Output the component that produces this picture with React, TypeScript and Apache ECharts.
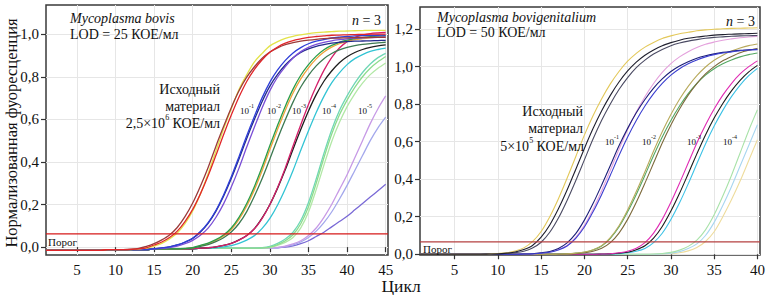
import React, { useEffect, useRef } from "react";
import * as echarts from "echarts";

// ---------- axis settings ----------
const leftXTicks = [5, 10, 15, 20, 25, 30, 35, 40, 45];
const leftYTicks = [0, 0.2, 0.4, 0.6, 0.8, 1.0];
const rightXTicks = [5, 10, 15, 20, 25, 30, 35, 40];
const rightYTicks = [0, 0.2, 0.4, 0.6, 0.8, 1.0, 1.2];
const leftXRange = [1, 45.3];
const leftYRange = [-0.037, 1.137];
const rightXRange = [1, 40.3];
const rightYRange = [-0.004, 1.318];
const leftThreshold = 0.062;
const rightThreshold = 0.066;

// ---------- Mycoplasma bovis (cycles 1..45) ----------
// Initial material 2.5e6
const bovInitRed = [-0.015,-0.015,-0.015,-0.015,-0.015,-0.015,-0.015,-0.015,-0.012,-0.012,-0.012,-0.011,-0.008,-0.003,0.01,0.024,0.045,0.075,0.12,0.177,0.25,0.335,0.43,0.528,0.62,0.705,0.778,0.835,0.88,0.915,0.94,0.958,0.97,0.978,0.985,0.989,0.992,0.995,0.996,0.997,0.998,0.999,1,1,1];
const bovInitBrown = [-0.015,-0.015,-0.015,-0.015,-0.015,-0.015,-0.015,-0.015,-0.012,-0.012,-0.012,-0.01,-0.006,0.003,0.016,0.034,0.057,0.092,0.143,0.207,0.286,0.374,0.473,0.566,0.655,0.734,0.798,0.847,0.887,0.916,0.936,0.951,0.96,0.967,0.972,0.976,0.979,0.981,0.982,0.983,0.984,0.985,0.985,0.985,0.985];
const bovInitYellow = [-0.015,-0.015,-0.015,-0.015,-0.015,-0.015,-0.015,-0.015,-0.012,-0.012,-0.012,-0.012,-0.009,-0.005,0.005,0.018,0.038,0.066,0.11,0.17,0.25,0.345,0.45,0.555,0.65,0.74,0.81,0.87,0.91,0.945,0.965,0.98,0.99,0.997,1.003,1.007,1.01,1.012,1.014,1.015,1.016,1.017,1.018,1.018,1.018];
// 10^-1
const bovD1Blue = [-0.015,-0.015,-0.015,-0.015,-0.015,-0.015,-0.015,-0.015,-0.012,-0.012,-0.012,-0.012,-0.012,-0.012,-0.007,-0.004,0.001,0.01,0.024,0.042,0.073,0.115,0.172,0.245,0.33,0.425,0.523,0.615,0.702,0.775,0.832,0.877,0.912,0.937,0.955,0.967,0.975,0.982,0.986,0.989,0.992,0.993,0.994,0.995,0.996];
const bovD1Violet = [-0.015,-0.015,-0.015,-0.015,-0.015,-0.015,-0.015,-0.015,-0.012,-0.012,-0.012,-0.012,-0.012,-0.012,-0.008,-0.006,-0.002,0.005,0.016,0.032,0.056,0.089,0.139,0.203,0.282,0.371,0.47,0.564,0.655,0.735,0.799,0.848,0.888,0.918,0.938,0.952,0.962,0.969,0.974,0.978,0.981,0.983,0.984,0.985,0.987];
const bovD1Navy = [-0.015,-0.015,-0.015,-0.015,-0.015,-0.015,-0.015,-0.015,-0.012,-0.012,-0.012,-0.012,-0.012,-0.012,-0.007,-0.004,0.001,0.01,0.023,0.041,0.071,0.112,0.168,0.239,0.322,0.414,0.51,0.6,0.684,0.756,0.811,0.855,0.889,0.914,0.931,0.943,0.951,0.958,0.962,0.965,0.967,0.968,0.969,0.97,0.971];
// 10^-2
const bovD2Green = [-0.015,-0.015,-0.015,-0.015,-0.015,-0.015,-0.015,-0.015,-0.012,-0.012,-0.012,-0.012,-0.012,-0.012,-0.008,-0.008,-0.008,-0.008,-0.006,-0.002,0.008,0.019,0.035,0.057,0.09,0.14,0.205,0.285,0.377,0.477,0.572,0.662,0.742,0.807,0.857,0.897,0.927,0.947,0.962,0.972,0.979,0.984,0.988,0.991,0.993];
const bovD2DarkGreen = [-0.015,-0.015,-0.015,-0.015,-0.015,-0.015,-0.015,-0.015,-0.012,-0.012,-0.012,-0.012,-0.012,-0.012,-0.008,-0.008,-0.008,-0.008,-0.007,-0.004,0.004,0.012,0.026,0.044,0.071,0.111,0.167,0.24,0.322,0.414,0.509,0.598,0.681,0.752,0.807,0.851,0.885,0.909,0.926,0.938,0.946,0.952,0.956,0.959,0.962];
const bovD2Orange = [-0.015,-0.015,-0.015,-0.015,-0.015,-0.015,-0.015,-0.015,-0.012,-0.012,-0.012,-0.012,-0.012,-0.012,-0.008,-0.008,-0.008,-0.008,-0.007,-0.003,0.006,0.016,0.031,0.052,0.083,0.13,0.193,0.27,0.36,0.458,0.553,0.643,0.724,0.79,0.842,0.884,0.916,0.939,0.955,0.966,0.974,0.979,0.983,0.986,0.988];
// 10^-3
const bovD3Black = [-0.015,-0.015,-0.015,-0.015,-0.015,-0.015,-0.015,-0.015,-0.012,-0.012,-0.012,-0.012,-0.012,-0.012,-0.008,-0.008,-0.008,-0.008,-0.008,-0.008,-0.005,-0.003,0.001,0.008,0.018,0.034,0.055,0.087,0.137,0.2,0.277,0.364,0.46,0.552,0.639,0.716,0.779,0.827,0.866,0.894,0.914,0.928,0.938,0.945,0.95];
const bovD3Crimson = [-0.015,-0.015,-0.015,-0.015,-0.015,-0.015,-0.015,-0.015,-0.012,-0.012,-0.012,-0.012,-0.012,-0.012,-0.008,-0.008,-0.008,-0.008,-0.008,-0.008,-0.005,-0.003,0.001,0.008,0.018,0.033,0.054,0.086,0.135,0.2,0.28,0.372,0.475,0.575,0.67,0.755,0.83,0.89,0.935,0.965,0.985,0.997,1.003,1.006,1.008];
const bovD3Cyan = [-0.015,-0.015,-0.015,-0.015,-0.015,-0.015,-0.015,-0.015,-0.012,-0.012,-0.012,-0.012,-0.012,-0.012,-0.008,-0.008,-0.008,-0.008,-0.008,-0.008,-0.005,-0.005,-0.003,0.001,0.007,0.018,0.033,0.054,0.088,0.135,0.198,0.274,0.36,0.455,0.546,0.632,0.708,0.771,0.818,0.857,0.885,0.904,0.919,0.928,0.935];
// 10^-4
const bovD4Green1 = [-0.015,-0.015,-0.015,-0.015,-0.015,-0.015,-0.015,-0.015,-0.012,-0.012,-0.012,-0.012,-0.012,-0.012,-0.008,-0.008,-0.008,-0.008,-0.008,-0.008,-0.005,-0.005,-0.005,-0.005,-0.005,-0.005,-0.005,-0.005,-0.004,0,0.012,0.03,0.058,0.11,0.19,0.3,0.42,0.53,0.62,0.69,0.75,0.8,0.84,0.87,0.895];
const bovD4Green2 = [-0.015,-0.015,-0.015,-0.015,-0.015,-0.015,-0.015,-0.015,-0.012,-0.012,-0.012,-0.012,-0.012,-0.012,-0.008,-0.008,-0.008,-0.008,-0.008,-0.008,-0.005,-0.005,-0.005,-0.005,-0.005,-0.005,-0.005,-0.005,-0.004,-0.002,0.008,0.022,0.045,0.09,0.165,0.27,0.385,0.495,0.585,0.66,0.72,0.77,0.81,0.84,0.865];
const bovD4Teal = [-0.015,-0.015,-0.015,-0.015,-0.015,-0.015,-0.015,-0.015,-0.012,-0.012,-0.012,-0.012,-0.012,-0.012,-0.008,-0.008,-0.008,-0.008,-0.008,-0.008,-0.005,-0.005,-0.005,-0.005,-0.005,-0.005,-0.005,-0.005,-0.003,0.004,0.018,0.038,0.07,0.125,0.21,0.32,0.44,0.55,0.64,0.71,0.77,0.82,0.86,0.89,0.91];
// 10^-5
const bovD5Lavender = [-0.015,-0.015,-0.015,-0.015,-0.015,-0.015,-0.015,-0.015,-0.012,-0.012,-0.012,-0.012,-0.012,-0.012,-0.008,-0.008,-0.008,-0.008,-0.008,-0.008,-0.005,-0.005,-0.005,-0.005,-0.005,-0.005,-0.005,-0.005,-0.004,-0.003,-0.001,0.005,0.015,0.03,0.055,0.09,0.14,0.2,0.27,0.34,0.42,0.5,0.58,0.65,0.71];
const bovD5Periwinkle = [-0.015,-0.015,-0.015,-0.015,-0.015,-0.015,-0.015,-0.015,-0.012,-0.012,-0.012,-0.012,-0.012,-0.012,-0.008,-0.008,-0.008,-0.008,-0.008,-0.008,-0.005,-0.005,-0.005,-0.005,-0.005,-0.005,-0.005,-0.005,-0.004,-0.004,-0.003,0.003,0.011,0.024,0.045,0.075,0.115,0.165,0.225,0.29,0.36,0.43,0.5,0.56,0.61];
const bovD5Violet = [-0.015,-0.015,-0.015,-0.015,-0.015,-0.015,-0.015,-0.015,-0.012,-0.012,-0.012,-0.012,-0.012,-0.012,-0.008,-0.008,-0.008,-0.008,-0.008,-0.008,-0.005,-0.005,-0.005,-0.005,-0.005,-0.005,-0.005,-0.005,-0.004,-0.004,-0.003,0,0.006,0.016,0.03,0.05,0.07,0.095,0.12,0.145,0.175,0.205,0.235,0.265,0.295];

// ---------- Mycoplasma bovigenitalium (cycles 1..40) ----------
const bgInitBlack = [0,0,0,0,0,0,0,0,0.001,0.002,0.006,0.012,0.025,0.047,0.091,0.156,0.242,0.342,0.452,0.564,0.67,0.765,0.847,0.918,0.977,1.024,1.061,1.089,1.112,1.128,1.141,1.151,1.158,1.163,1.168,1.171,1.173,1.175,1.176,1.178];
const bgInitYellow = [0,0,0,0,0,0,0,0,0.001,0.004,0.008,0.017,0.034,0.067,0.121,0.2,0.296,0.405,0.52,0.635,0.738,0.829,0.908,0.974,1.029,1.071,1.104,1.129,1.15,1.164,1.175,1.183,1.191,1.196,1.199,1.202,1.204,1.205,1.206,1.207];
const bgInitSlate = [0,0,0,0,0,0,0,0,0,0.001,0.004,0.008,0.016,0.033,0.064,0.117,0.193,0.287,0.392,0.503,0.614,0.714,0.801,0.878,0.942,0.995,1.035,1.067,1.092,1.112,1.126,1.136,1.144,1.151,1.156,1.159,1.162,1.164,1.165,1.166];
const bgD1Blue = [0,0,0,0,0,0,0,0,0,0,0,0,0.001,0.002,0.006,0.011,0.023,0.044,0.085,0.145,0.226,0.319,0.421,0.526,0.625,0.713,0.79,0.856,0.911,0.955,0.989,1.015,1.036,1.052,1.064,1.073,1.079,1.085,1.089,1.091];
const bgD1Navy = [0,0,0,0,0,0,0,0,0,0,0,0,0.001,0.003,0.008,0.015,0.031,0.061,0.11,0.182,0.27,0.369,0.473,0.578,0.671,0.754,0.825,0.886,0.935,0.974,1.003,1.026,1.045,1.058,1.068,1.076,1.082,1.087,1.09,1.093];
const bgD1Pink = [0,0,0,0,0,0,0,0,0,0,0,0,0.001,0.002,0.006,0.012,0.025,0.047,0.09,0.154,0.24,0.339,0.448,0.559,0.665,0.758,0.84,0.91,0.969,1.016,1.052,1.08,1.102,1.119,1.131,1.141,1.148,1.154,1.158,1.161];
const bgD2Olive = [0,0,0,0,0,0,0,0,0,0,0,0,0,0,0,0,0.001,0.002,0.006,0.012,0.024,0.046,0.089,0.152,0.236,0.334,0.44,0.55,0.653,0.745,0.826,0.895,0.952,0.998,1.034,1.061,1.083,1.099,1.112,1.121];
const bgD2Brown = [0,0,0,0,0,0,0,0,0,0,0,0,0,0,0,0,0,0.001,0.003,0.008,0.016,0.032,0.062,0.113,0.186,0.277,0.379,0.486,0.593,0.689,0.774,0.848,0.91,0.961,1.0,1.031,1.054,1.074,1.087,1.097];
const bgD2Green = [0,0,0,0,0,0,0,0,0,0,0,0,0,0,0,0,0.001,0.002,0.006,0.011,0.023,0.044,0.085,0.145,0.226,0.319,0.421,0.526,0.625,0.713,0.79,0.856,0.911,0.955,0.989,1.015,1.036,1.052,1.064,1.073];
const bgD3Magenta = [0,0,0,0,0,0,0,0,0,0,0,0,0,0,0,0,0,0,0,0,0,0.001,0.003,0.008,0.016,0.032,0.062,0.113,0.186,0.277,0.379,0.486,0.593,0.689,0.774,0.848,0.91,0.961,1.0,1.031];
const bgD3Black = [0,0,0,0,0,0,0,0,0,0,0,0,0,0,0,0,0,0,0,0,0,0.001,0.002,0.006,0.011,0.024,0.045,0.086,0.148,0.23,0.325,0.429,0.535,0.636,0.726,0.804,0.871,0.927,0.972,1.007];
const bgD3Cyan = [0,0,0,0,0,0,0,0,0,0,0,0,0,0,0,0,0,0,0,0,0,0,0.001,0.003,0.008,0.016,0.031,0.062,0.112,0.185,0.274,0.375,0.482,0.588,0.683,0.767,0.84,0.902,0.952,0.991];
const bgD4Green = [0,0,0,0,0,0,0,0,0,0,0,0,0,0,0,0,0,0,0,0,0,0,0,0,0,0,0,0.001,0.004,0.01,0.022,0.042,0.075,0.13,0.21,0.31,0.42,0.54,0.66,0.77];
const bgD4Blue = [0,0,0,0,0,0,0,0,0,0,0,0,0,0,0,0,0,0,0,0,0,0,0,0,0,0,0,0,0.002,0.006,0.014,0.03,0.055,0.1,0.17,0.26,0.36,0.47,0.58,0.69];
const bgD4Yellow = [0,0,0,0,0,0,0,0,0,0,0,0,0,0,0,0,0,0,0,0,0,0,0,0,0,0,0,0,0,0.003,0.008,0.018,0.036,0.068,0.12,0.2,0.29,0.39,0.5,0.61];

const leftCurves = [
  { data: bovD5Violet, color: "#7a6ad6" },
  { data: bovD5Periwinkle, color: "#a4a8ec" },
  { data: bovD5Lavender, color: "#c79ae6" },
  { data: bovD4Green2, color: "#b2e8a6" },
  { data: bovD4Teal, color: "#6fd7b6" },
  { data: bovD4Green1, color: "#8ddc8d" },
  { data: bovD3Cyan, color: "#33c4d4" },
  { data: bovD3Black, color: "#1e1e1e" },
  { data: bovD3Crimson, color: "#d4206a" },
  { data: bovD2Orange, color: "#f0a33a" },
  { data: bovD2DarkGreen, color: "#3d7a52" },
  { data: bovD2Green, color: "#2a9d4a" },
  { data: bovD1Navy, color: "#222a8c" },
  { data: bovD1Violet, color: "#7b4fd6" },
  { data: bovD1Blue, color: "#2f3fd8" },
  { data: bovInitYellow, color: "#e3e34a" },
  { data: bovInitBrown, color: "#9b3b3b" },
  { data: bovInitRed, color: "#e0262a" },
];

const rightCurves = [
  { data: bgD4Yellow, color: "#eedc9c" },
  { data: bgD4Blue, color: "#a8d6f0" },
  { data: bgD4Green, color: "#a9e2a9" },
  { data: bgD3Cyan, color: "#3dc2e6" },
  { data: bgD3Black, color: "#1b1b1b" },
  { data: bgD3Magenta, color: "#e02cb4" },
  { data: bgD2Green, color: "#55a863" },
  { data: bgD2Brown, color: "#7d6a3c" },
  { data: bgD2Olive, color: "#b8aa5c" },
  { data: bgD1Pink, color: "#e4a0dc" },
  { data: bgD1Navy, color: "#1d1f7a" },
  { data: bgD1Blue, color: "#3b3fd0" },
  { data: bgInitSlate, color: "#4b4b63" },
  { data: bgInitYellow, color: "#e3c85a" },
  { data: bgInitBlack, color: "#1f1f2e" },
];

const FONT = "Liberation Serif";
const toPoints = (arr: number[]) => arr.map((v, i) => [i + 1, v]);
const fmtY = (v: number) => v.toFixed(1).replace(".", ",");

function xAxis(gridIndex: number, range: number[], ticks: number[]) {
  return {
    type: "value",
    gridIndex,
    min: range[0],
    max: range[1],
    axisLine: { show: false },
    axisTick: { show: true, customValues: ticks, length: 5, lineStyle: { color: "#333", width: 1.2 } },
    axisLabel: { customValues: ticks, margin: 7, fontFamily: FONT, fontSize: 15, color: "#111", formatter: (v: number) => String(v) },
    splitLine: { show: true, lineStyle: { color: "#e6e6e6", width: 1 } },
  };
}
function yAxis(gridIndex: number, range: number[], ticks: number[]) {
  return {
    type: "value",
    gridIndex,
    min: range[0],
    max: range[1],
    axisLine: { show: false },
    axisTick: { show: true, customValues: ticks, length: 5, lineStyle: { color: "#333", width: 1.2 } },
    axisLabel: { customValues: ticks, margin: 7, fontFamily: FONT, fontSize: 15, color: "#111", formatter: fmtY },
    splitLine: { show: true, lineStyle: { color: "#e6e6e6", width: 1 } },
  };
}

function curveSeries(defs: { data: number[]; color: string }[], idx: number, width: number) {
  return defs.map((d, i) => ({
    type: "line",
    name: `s${idx}-${i}`,
    xAxisIndex: idx,
    yAxisIndex: idx,
    data: toPoints(d.data),
    showSymbol: false,
    symbol: "none",
    smooth: 0.3,
    silent: true,
    lineStyle: { color: d.color, width },
    itemStyle: { color: d.color },
    z: 3,
  }));
}

function thresholdSeries(idx: number, range: number[], value: number, color: string) {
  return {
    type: "line",
    name: `threshold${idx}`,
    xAxisIndex: idx,
    yAxisIndex: idx,
    data: [[range[0], value], [range[1], value]],
    showSymbol: false,
    symbol: "none",
    silent: true,
    lineStyle: { color, width: 1.3 },
    z: 4,
  };
}

const txt = (x: number, y: number, text: string, extra: any = {}, rotation = 0) => ({
  type: "text",
  x,
  y,
  rotation,
  silent: true,
  style: {
    text,
    fontFamily: FONT,
    fontSize: 14,
    fill: "#111",
    align: "left",
    verticalAlign: "middle",
    ...extra,
  },
  z: 10,
});

const supRich = (base: number, sup: number) => ({
  b: { fontFamily: FONT, fontSize: base, fill: "#111", lineHeight: base + 3, verticalAlign: "bottom" },
  s: { fontFamily: FONT, fontSize: sup, fill: "#111", lineHeight: sup + 1, verticalAlign: "top" },
  i: { fontFamily: FONT, fontSize: base, fill: "#111", fontStyle: "italic", lineHeight: base + 3, verticalAlign: "bottom" },
});

const leftDilLabels = [
  { x: 240, t: "-1" },
  { x: 267, t: "-2" },
  { x: 292, t: "-3" },
  { x: 322, t: "-4" },
  { x: 358, t: "-5" },
];
const rightDilLabels = [
  { x: 605, t: "-1" },
  { x: 642, t: "-2" },
  { x: 687, t: "-3" },
  { x: 723, t: "-4" },
];

const graphics: any[] = [
  txt(11, 133, "Нормализованная фуоресценция", { align: "center", fontSize: 16.5 }, Math.PI / 2),
  txt(401, 286, "Цикл", { align: "center", fontSize: 17.5 }),
  // left panel
  txt(70, 18, "Mycoplasma bovis", { fontStyle: "italic" }),
  txt(70, 34, "LOD = 25 КОЕ/мл"),
  txt(381, 19, "{i|n} {b|= 3}", { align: "right", rich: supRich(14, 9) }),
  txt(220, 89, "Исходный", { align: "right" }),
  txt(220, 106, "материал", { align: "right" }),
  txt(220, 122, "{b|2,5×10}{s|6}{b| КОЕ/мл}", { align: "right", rich: supRich(14, 8) }),
  txt(48, 242, "Порог", { fontSize: 11 }),
  ...leftDilLabels.map((d) => txt(d.x, 109, `{b|10}{s|${d.t}}`, { rich: supRich(9, 6) })),
  // right panel
  txt(437, 17, "Mycoplasma bovigenitalium", { fontStyle: "italic" }),
  txt(437, 32, "LOD = 50 КОЕ/мл"),
  txt(755, 20, "{i|n} {b|= 3}", { align: "right", rich: supRich(14, 9) }),
  txt(583, 111, "Исходный", { align: "right" }),
  txt(583, 128, "материал", { align: "right" }),
  txt(584, 145, "{b|5×10}{s|5}{b| КОЕ/мл}", { align: "right", rich: supRich(14, 8) }),
  txt(423, 249, "Порог", { fontSize: 11 }),
  ...rightDilLabels.map((d) => txt(d.x, 140, `{b|10}{s|${d.t}}`, { rich: supRich(9, 6) })),
];

const option: any = {
  animation: false,
  backgroundColor: "#ffffff",
  textStyle: { fontFamily: FONT },
  grid: [
    { left: 46, top: 5, width: 342, height: 250, show: true, borderColor: "#3a3a3a", borderWidth: 1.5, backgroundColor: "transparent" },
    { left: 420, top: 7, width: 340, height: 248, show: true, borderColor: "#3a3a3a", borderWidth: 1.5, backgroundColor: "transparent" },
  ],
  xAxis: [xAxis(0, leftXRange, leftXTicks), xAxis(1, rightXRange, rightXTicks)],
  yAxis: [yAxis(0, leftYRange, leftYTicks), yAxis(1, rightYRange, rightYTicks)],
  series: [
    ...curveSeries(leftCurves, 0, 1.3),
    thresholdSeries(0, leftXRange, leftThreshold, "#d61a1a"),
    ...curveSeries(rightCurves, 1, 1.1),
    thresholdSeries(1, rightXRange, rightThreshold, "#b54040"),
  ],
  graphic: graphics,
};

export default function App() {
  const ref = useRef<HTMLDivElement>(null);
  useEffect(() => {
    document.body.style.margin = "0";
    const chart = echarts.init(ref.current as HTMLDivElement, null, { renderer: "svg" });
    chart.setOption(option);
    return () => chart.dispose();
  }, []);
  return <div ref={ref} style={{ width: 768, height: 295 }} />;
}
